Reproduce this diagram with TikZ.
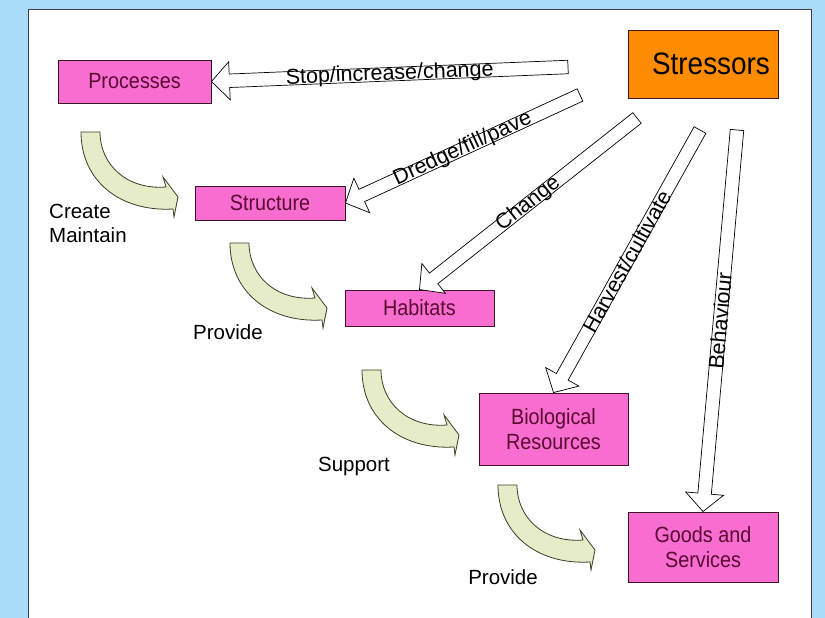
\documentclass[tikz,border=0pt]{standalone}
\usepackage{fontspec}
\setmainfont{Liberation Sans}
\newfontfamily\boxfont[FakeStretch=0.9]{Liberation Sans}
\usetikzlibrary{calc}
\definecolor{bgblue}{RGB}{168,220,248}
\definecolor{boxpink}{RGB}{248,110,208}
\definecolor{boxtext}{RGB}{90,10,50}
\definecolor{boxline}{RGB}{60,20,40}
\definecolor{stressorange}{RGB}{255,140,0}
\definecolor{palegreen}{RGB}{230,235,200}
\definecolor{paleline}{RGB}{60,60,40}
\newcommand\blockarr[3]{%
  \coordinate (#3h) at ($(#2)!18pt!(#1)$);
  \draw[blockarrow] ($(#1)!6.75pt!90:(#2)$) -- ($(#3h)!6.75pt!90:(#2)$) -- ($(#3h)!19pt!90:(#2)$) -- (#2)
    -- ($(#3h)!19pt!-90:(#2)$) -- ($(#3h)!6.75pt!-90:(#2)$) -- ($(#1)!6.75pt!-90:(#2)$) -- cycle;}
\tikzset{
  txt/.style={font=\fontsize{20.5}{24}\selectfont},
  pinkbox/.style={draw=boxline, line width=0.9pt, fill=boxpink, text=boxtext,
    font=\boxfont\fontsize{22}{24.5}\selectfont, align=center, inner sep=0pt},
  blockarrow/.style={draw=black, line width=0.7pt, fill=white, line join=miter},
  arrlabel/.style={font=\fontsize{21.5}{24}\selectfont, sloped, inner sep=0pt},
  plainlabel/.style={txt, inner sep=0pt, align=left},
  curvearr/.pic={\draw[fill=palegreen, draw=paleline, line width=0.8pt]
    (0,0) .. controls (0,48) and (38,80) .. (92,77) -- (93,85) -- (97,65) -- (82,45) -- (85,55)
    .. controls (45,58) and (19,32) .. (19,0) -- cycle;}
}
\begin{document}
\begin{tikzpicture}[x=1pt,y=-1pt]
\useasboundingbox (0,0) rectangle (825,618);
\fill[bgblue] (0,0) rectangle (825,618);
\draw[fill=white, draw=black!75, line width=1pt] (28,10) rectangle (811,640);

% boxes
\node[pinkbox, minimum width=153pt, minimum height=43pt] (proc) at (134.5,81.5) {Processes};
\node[draw=boxline, line width=0.9pt, fill=stressorange, inner sep=0pt, minimum width=150pt, minimum height=68pt,
      font=\boxfont\fontsize{31}{34}\selectfont] (stress) at (703,64) {\hspace*{16pt}Stressors};
\node[pinkbox, minimum width=150pt, minimum height=34pt] (struct) at (270,203) {Structure};
\node[pinkbox, minimum width=149pt, minimum height=36pt] (hab) at (419.5,308) {Habitats};
\node[pinkbox, minimum width=149pt, minimum height=72pt] (bio) at (553.5,429) {Biological\\Resources};
\node[pinkbox, minimum width=150pt, minimum height=70pt] (goods) at (703,547) {Goods and\\Services};

% block arrows from stressors
\coordinate (tA) at (568,67);
\coordinate (tB) at (580,95);
\coordinate (tC) at (637,118);
\coordinate (tD) at (700,130);
\coordinate (tE) at (737,130);
\blockarr{tA}{proc.east}{aA}
\blockarr{tB}{struct.east}{aB}
\blockarr{tC}{hab.north}{aC}
\blockarr{tD}{bio.north}{aD}
\blockarr{tE}{goods.north}{aE}
\path (tA) -- node[arrlabel] {Stop/increase/change} (proc.east);
\path (tB) -- node[arrlabel] {Dredge/fill/pave} (struct.east);
\path (tC) -- node[arrlabel] {Change} (hab.north);
\path (tD) -- node[arrlabel] {Harvest/cultivate} (bio.north);
\path (tE) -- node[arrlabel] {Behaviour} (goods.north);

% curved arrows
\pic (c1) at (81,132) {curvearr};
\pic (c2) at (230,243) {curvearr};
\pic (c3) at (362,370) {curvearr};
\pic (c4) at (498,485) {curvearr};

% labels
\node[plainlabel, anchor=west] (lcreate) at (49,223) {Create\\Maintain};
\node[plainlabel] (lprov1) at (228,332) {Provide};
\node[plainlabel] (lsupp) at (354,466) {Support};
\node[plainlabel] (lprov2) at (503,577) {Provide};
\end{tikzpicture}
\end{document}
